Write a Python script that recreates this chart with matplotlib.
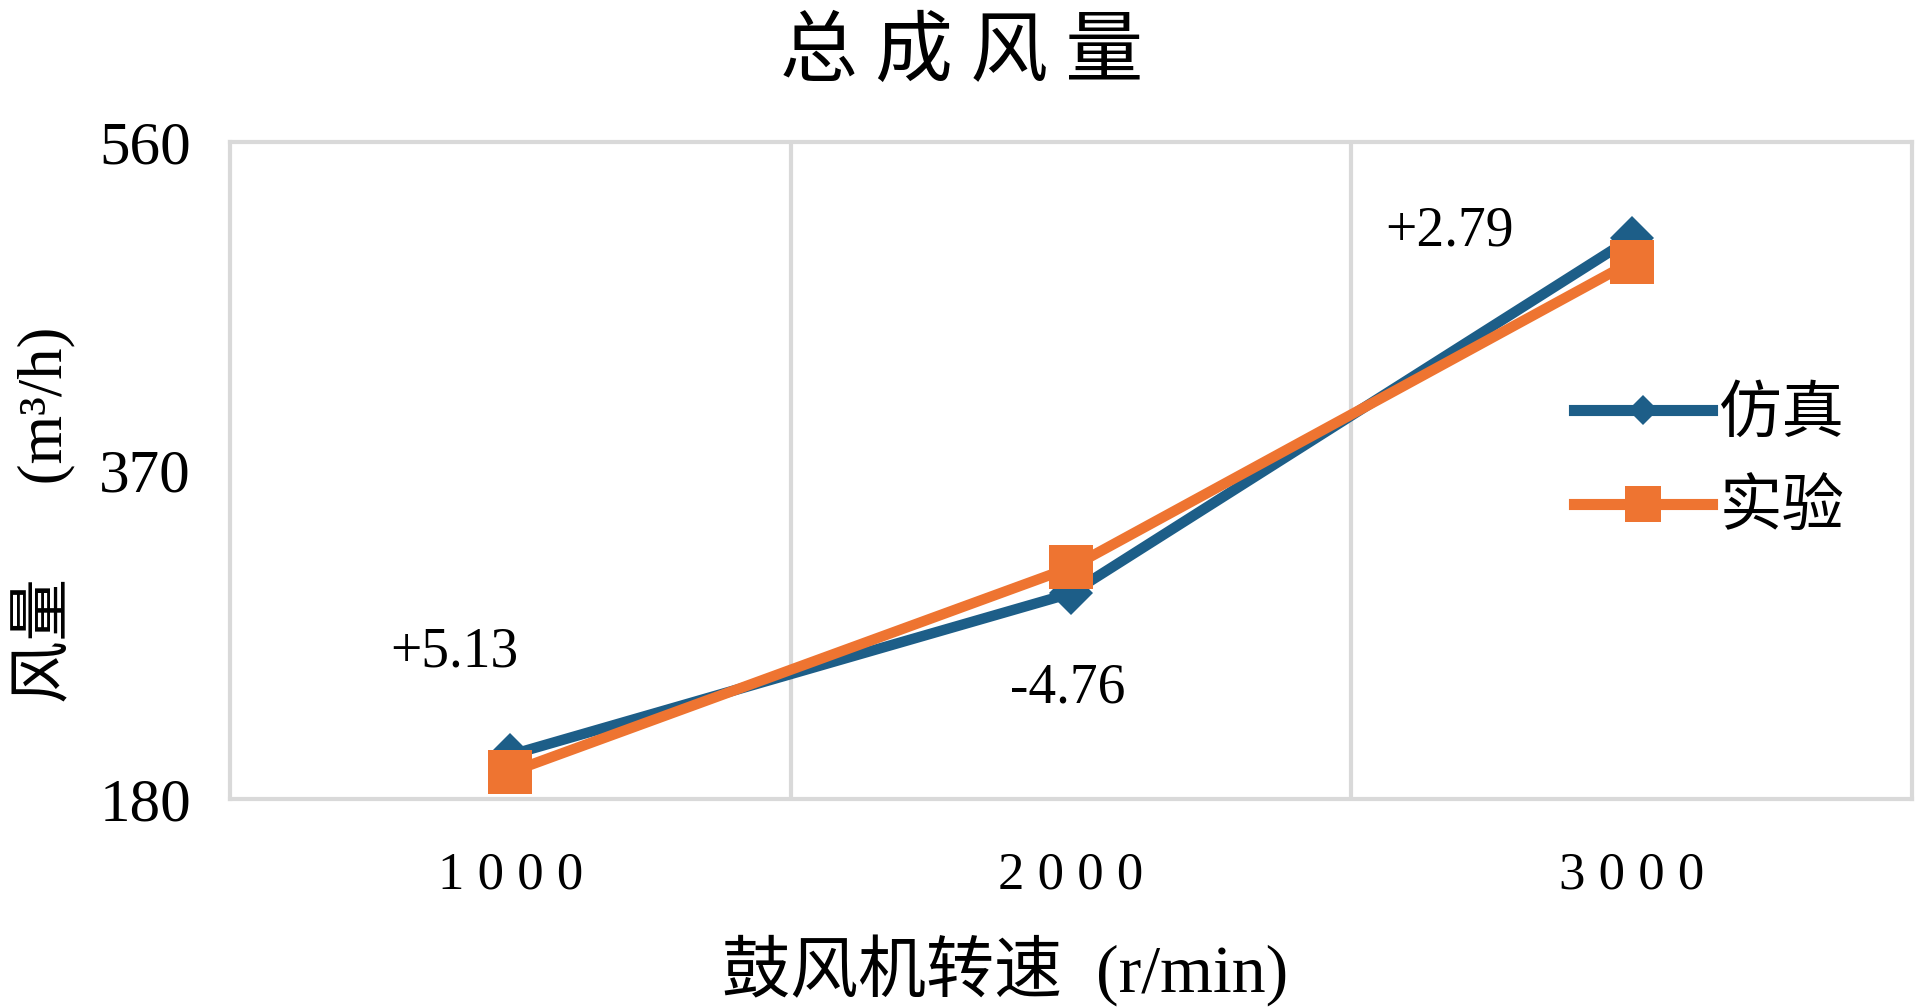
import matplotlib
matplotlib.use("Agg")
import matplotlib.pyplot as plt
from matplotlib.lines import Line2D

# ---- data ----
categories = ["1000", "2000", "3000"]
sim_values = [205.5, 299.0, 504.5]      # 仿真
exp_values = [195.5, 314.0, 490.8]      # 实验
deviation_labels = ["+5.13", "-4.76", "+2.79"]
y_ticks = [180, 370, 560]

title_text = "总 成 风 量"
xlabel_text = "鼓风机转速  (r/min)"
ylabel_text = "风量      (m³/h)"
series_names = ["仿真", "实验"]

BLUE = "#1d5e88"
ORANGE = "#ee7431"
GRID = "#d9d9d9"
SERIF = ["Liberation Serif", "Noto Sans CJK SC"]
CJK = ["Noto Sans CJK SC", "DejaVu Sans"]

fig = plt.figure(figsize=(19.21, 10.08), dpi=100)
ax = fig.add_axes([0.1197, 0.2073, 0.9953 - 0.1197, 0.8591 - 0.2073])

x = list(range(len(categories)))
ax.plot(x, sim_values, color=BLUE, lw=7.5, marker="D", markersize=22,
        markeredgewidth=0, clip_on=False, zorder=3, solid_joinstyle="miter")
ax.plot(x, exp_values, color=ORANGE, lw=7.5, marker="s", markersize=31,
        markeredgewidth=0, clip_on=False, zorder=4, solid_joinstyle="miter")

ax.set_xlim(-0.5, len(categories) - 0.5)
ax.set_ylim(y_ticks[0], y_ticks[-1])
ax.set_yticks(y_ticks)
ax.set_yticklabels([str(t) for t in y_ticks], family=SERIF, fontsize=44)
ax.set_xticks(x)
ax.set_xticklabels([" ".join(c) for c in categories], family=SERIF, fontsize=38)
ax.tick_params(axis="both", length=0)
ax.tick_params(axis="y", pad=28)
ax.tick_params(axis="x", pad=38)

for xb in [i + 0.5 for i in x[:-1]]:
    ax.axvline(xb, color=GRID, lw=3, zorder=1)
for s in ax.spines.values():
    s.set_color(GRID)
    s.set_linewidth(3)

# deviation annotations
ann_pos = [(-0.10, 265), (0.995, 244), (1.675, 508)]
for (ax_x, ax_y), lab in zip(ann_pos, deviation_labels):
    ax.text(ax_x, ax_y, lab, family=SERIF, fontsize=40, ha="center", va="center")

fig.text(0.5005, 0.947, title_text, family=CJK, fontsize=56, ha="center", va="center")
fig.text(0.523, 0.037, xlabel_text, family=SERIF, fontsize=49, ha="center", va="center")
fig.text(0.023, 0.489, ylabel_text, family=SERIF, fontsize=45, ha="center",
         va="center", rotation=90)

handles = [
    Line2D([], [], color=BLUE, lw=8, marker="D", markersize=15, markeredgewidth=0),
    Line2D([], [], color=ORANGE, lw=8, marker="s", markersize=26, markeredgewidth=0),
]
leg = fig.legend(handles, series_names, loc="center left",
                 bbox_to_anchor=(0.8065, 0.543), frameon=False,
                 prop={"family": CJK, "size": 45}, handlelength=2.2,
                 handletextpad=0.12, labelspacing=0.48, borderaxespad=0)

fig.savefig("out.png", dpi=100, facecolor="white")
